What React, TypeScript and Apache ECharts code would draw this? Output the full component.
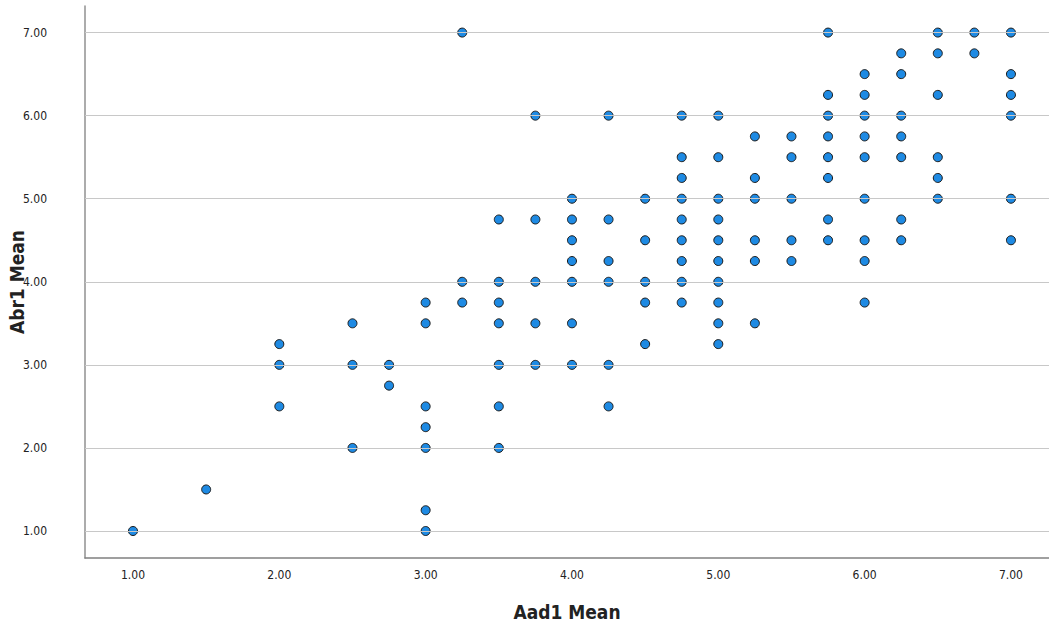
import React, { useEffect, useRef } from "react";
import * as echarts from "echarts";

// Aad1 Mean (x) and Abr1 Mean (y) pairs
const xValues: number[] = [
  1.0,
  1.5,
  2.0, 2.0, 2.0,
  2.5, 2.5, 2.5,
  2.75, 2.75,
  3.0, 3.0, 3.0, 3.0, 3.0, 3.0, 3.0,
  3.25, 3.25, 3.25,
  3.5, 3.5, 3.5, 3.5, 3.5, 3.5, 3.5,
  3.75, 3.75, 3.75, 3.75, 3.75,
  4.0, 4.0, 4.0, 4.0, 4.0, 4.0, 4.0,
  4.25, 4.25, 4.25, 4.25, 4.25, 4.25,
  4.5, 4.5, 4.5, 4.5, 4.5,
  4.75, 4.75, 4.75, 4.75, 4.75, 4.75, 4.75, 4.75, 4.75,
  5.0, 5.0, 5.0, 5.0, 5.0, 5.0, 5.0, 5.0, 5.0, 5.0,
  5.25, 5.25, 5.25, 5.25, 5.25, 5.25,
  5.5, 5.5, 5.5, 5.5, 5.5,
  5.75, 5.75, 5.75, 5.75, 5.75, 5.75, 5.75, 5.75,
  6.0, 6.0, 6.0, 6.0, 6.0, 6.0, 6.0, 6.0, 6.0,
  6.25, 6.25, 6.25, 6.25, 6.25, 6.25, 6.25,
  6.5, 6.5, 6.5, 6.5, 6.5, 6.5,
  6.75, 6.75,
  7.0, 7.0, 7.0, 7.0, 7.0, 7.0,
];
const yValues: number[] = [
  1.0,
  1.5,
  3.25, 3.0, 2.5,
  3.5, 3.0, 2.0,
  3.0, 2.75,
  3.75, 3.5, 2.5, 2.25, 2.0, 1.25, 1.0,
  7.0, 4.0, 3.75,
  4.75, 4.0, 3.75, 3.5, 3.0, 2.5, 2.0,
  6.0, 4.75, 4.0, 3.5, 3.0,
  5.0, 4.75, 4.5, 4.25, 4.0, 3.5, 3.0,
  6.0, 4.75, 4.25, 4.0, 3.0, 2.5,
  5.0, 4.5, 4.0, 3.75, 3.25,
  6.0, 5.5, 5.25, 5.0, 4.75, 4.5, 4.25, 4.0, 3.75,
  6.0, 5.5, 5.0, 4.75, 4.5, 4.25, 4.0, 3.75, 3.5, 3.25,
  5.75, 5.25, 5.0, 4.5, 4.25, 3.5,
  5.75, 5.5, 5.0, 4.5, 4.25,
  7.0, 6.25, 6.0, 5.75, 5.5, 5.25, 4.75, 4.5,
  6.5, 6.25, 6.0, 5.75, 5.5, 5.0, 4.5, 4.25, 3.75,
  6.75, 6.5, 6.0, 5.75, 5.5, 4.75, 4.5,
  7.0, 6.75, 6.25, 5.5, 5.25, 5.0,
  7.0, 6.75,
  7.0, 6.5, 6.25, 6.0, 5.0, 4.5,
];
const xTicks: number[] = [1, 2, 3, 4, 5, 6, 7];
const yTicks: number[] = [1, 2, 3, 4, 5, 6, 7];
const xTitle = "Aad1 Mean";
const yTitle = "Abr1 Mean";

const FONT = "'DejaVu Sans Condensed', 'Liberation Sans Narrow', 'Noto Sans', sans-serif";

export default function App() {
  const ref = useRef<HTMLDivElement>(null);
  useEffect(() => {
    if (!ref.current) return;
    const chart = echarts.init(ref.current, null, { renderer: "svg" });
    const points = xValues.map((x, i) => [x, yValues[i]]);
    chart.setOption({
      animation: false,
      backgroundColor: "#ffffff",
      grid: {
        left: 85,
        right: 0,
        top: 6,
        bottom: 66,
        containLabel: false,
        outerBoundsMode: "none",
      },
      xAxis: {
        type: "value",
        min: 0.672,
        max: 7.26,
        name: xTitle,
        nameLocation: "middle",
        nameGap: 44,
        nameMoveOverlap: false,
        nameTextStyle: { fontFamily: FONT, fontSize: 19, fontWeight: "bold", color: "#222" },
        axisLine: { show: true, lineStyle: { color: "#808080", width: 1.5 } },
        axisTick: { show: false },
        splitLine: { show: false },
        axisLabel: {
          customValues: xTicks,
          formatter: (v: number) => v.toFixed(2),
          fontFamily: FONT,
          fontSize: 12,
          color: "#222",
          margin: 11,
        },
      },
      yAxis: {
        type: "value",
        min: 0.675,
        max: 7.32,
        name: yTitle,
        nameLocation: "middle",
        nameGap: 59,
        nameRotate: 90,
        nameMoveOverlap: false,
        nameTextStyle: {
          fontFamily: FONT,
          fontSize: 19,
          fontWeight: "bold",
          color: "#222",
          verticalAlign: "bottom",
        },
        axisLine: { show: true, lineStyle: { color: "#909090", width: 1.5 } },
        axisTick: { show: false },
        splitLine: { show: false },
        axisLabel: {
          customValues: yTicks,
          formatter: (v: number) => v.toFixed(2),
          fontFamily: FONT,
          fontSize: 12,
          color: "#222",
          margin: 38,
        },
      },
      series: [
        {
          type: "line",
          data: [],
          z: 1,
          silent: true,
          markLine: {
            silent: true,
            symbol: "none",
            animation: false,
            label: { show: false },
            lineStyle: { color: "#c8c8c8", width: 1.2, type: "solid" },
            data: yTicks.map((v) => ({ yAxis: v })),
          },
        },
        {
          type: "scatter",
          z: 3,
          data: points,
          symbol: "circle",
          symbolSize: 9,
          itemStyle: { color: "#1e8ae3", borderColor: "#1a1a1a", borderWidth: 1, opacity: 1 },
        },
      ],
    });
    return () => chart.dispose();
  }, []);
  return (
    <div
      ref={ref}
      style={{ position: "absolute", left: 0, top: 0, width: 1049, height: 624 }}
    />
  );
}
